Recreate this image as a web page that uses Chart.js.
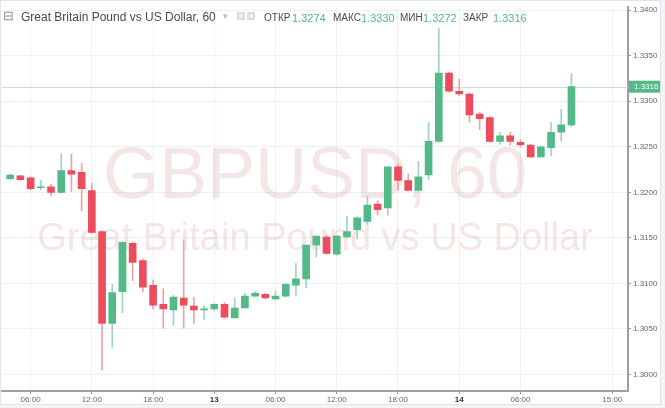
<!DOCTYPE html>
<html>
<head>
<meta charset="utf-8">
<script src="https://cdn.jsdelivr.net/npm/chart.js@4.4.0/dist/chart.umd.min.js"></script>
<style>
body { margin: 0; background: #fff; font-family: "Liberation Sans", Arial, sans-serif; }
#wrap { position: relative; width: 665px; height: 408px; overflow: hidden; background: #f3f4f6; }
#frame { position: absolute; left: 0; top: 0; width: 659px; height: 403px; border: 1px solid #e0e3eb; background: #fff; }
canvas { position: absolute; left: 0; top: 0; }
.hd { position: absolute; top: 10px; white-space: nowrap; line-height: 14px; }
.lbl { font-size: 10px; color: #4a4a4a; top: 11px; }
.val { font-size: 11px; color: #53b987; top: 11px; }
.ico { position: absolute; top: 12px; width: 8px; height: 8px; background: #d9dce1; border-radius: 1px; }
.ico i { position: absolute; left: 2px; top: 2px; width: 4px; height: 4px; border-radius: 2px; background: #f4f5f7; }
</style>
</head>
<body>
<div id="wrap">
  <div id="frame"></div>
  <canvas id="chart" width="665" height="408"></canvas>
  <div class="hd" style="left:3px; top:9px; font-size:13px; color:#8a8f98;">⊟</div>
  <div class="hd" style="left:21px; font-size:12px; color:#4a4a4a;">Great Britain Pound vs US Dollar, 60</div>
  <div class="hd" style="left:223px; top:9px; font-size:9px; color:#b5b8be;">▾</div>
  <div class="ico" style="left:237px;"><i></i></div>
  <div class="ico" style="left:247px;"><i></i></div>
  <div class="hd lbl" style="left:264px;">ОТКР</div>
  <div class="hd val" style="left:292px;">1.3274</div>
  <div class="hd lbl" style="left:333px;">МАКС</div>
  <div class="hd val" style="left:361px;">1.3330</div>
  <div class="hd lbl" style="left:400px;">МИН</div>
  <div class="hd val" style="left:423px;">1.3272</div>
  <div class="hd lbl" style="left:463px;">ЗАКР</div>
  <div class="hd val" style="left:493px;">1.3316</div>
</div>
<script>
// hourly candles, index 0 = 04:00 on the 12th
const opens = [1.3215, 1.3218, 1.3216, 1.3205, 1.3206, 1.3200, 1.3224, 1.3222, 1.3202, 1.3157,
  1.3056, 1.3091, 1.3144, 1.3125, 1.3098, 1.3077, 1.3071, 1.3084, 1.3075, 1.3071,
  1.3072, 1.3077, 1.3062, 1.3073, 1.3086, 1.3088, 1.3083, 1.3086, 1.3098, 1.3105,
  1.3142, 1.3151, 1.3132, 1.3151, 1.3159, 1.3168, 1.3187, 1.3183, 1.3228, 1.3213,
  1.3202, 1.3219, 1.3256, 1.3331, 1.3311, 1.3308, 1.3286, 1.3282, 1.3256, 1.3262,
  1.3255, 1.3252, 1.3239, 1.3249, 1.3266, 1.3274];
const highs = [1.3220, 1.3219, 1.3217, 1.3213, 1.3209, 1.3242, 1.3242, 1.3232, 1.3210, 1.3158,
  1.3099, 1.3146, 1.3145, 1.3127, 1.3104, 1.3094, 1.3087, 1.3148, 1.3085, 1.3075,
  1.3078, 1.3079, 1.3084, 1.3089, 1.3091, 1.3089, 1.3092, 1.3100, 1.3122, 1.3142,
  1.3152, 1.3153, 1.3153, 1.3174, 1.3173, 1.3196, 1.3191, 1.3228, 1.3231, 1.3220,
  1.3234, 1.3277, 1.3380, 1.3332, 1.3324, 1.3309, 1.3288, 1.3283, 1.3266, 1.3266,
  1.3258, 1.3253, 1.3251, 1.3277, 1.3291, 1.3330];
const lows = [1.3214, 1.3213, 1.3203, 1.3203, 1.3196, 1.3199, 1.3201, 1.3180, 1.3155, 1.3005,
  1.3030, 1.3068, 1.3103, 1.3091, 1.3072, 1.3051, 1.3054, 1.3051, 1.3056, 1.3060,
  1.3070, 1.3062, 1.3062, 1.3073, 1.3086, 1.3083, 1.3082, 1.3085, 1.3087, 1.3095,
  1.3129, 1.3132, 1.3131, 1.3150, 1.3149, 1.3165, 1.3175, 1.3175, 1.3202, 1.3202,
  1.3201, 1.3214, 1.3255, 1.3310, 1.3306, 1.3277, 1.3269, 1.3255, 1.3253, 1.3252,
  1.3250, 1.3238, 1.3238, 1.3240, 1.3256, 1.3272];
const closes = [1.3219, 1.3214, 1.3204, 1.3206, 1.3200, 1.3224, 1.3220, 1.3204, 1.3156, 1.3056,
  1.3090, 1.3145, 1.3123, 1.3096, 1.3076, 1.3072, 1.3085, 1.3076, 1.3071, 1.3072,
  1.3077, 1.3063, 1.3073, 1.3086, 1.3089, 1.3084, 1.3086, 1.3099, 1.3105, 1.3142,
  1.3152, 1.3133, 1.3152, 1.3157, 1.3172, 1.3186, 1.3181, 1.3228, 1.3213, 1.3202,
  1.3217, 1.3256, 1.3331, 1.3311, 1.3308, 1.3285, 1.3281, 1.3256, 1.3262, 1.3256,
  1.3252, 1.3239, 1.3250, 1.3266, 1.3274, 1.3316];

const xTickPos = [2, 8, 14, 20, 26, 32, 38, 44, 50, 59];
const xTickLabels = ['06:00', '12:00', '18:00', '13', '06:00', '12:00', '18:00', '14', '06:00', '15:00'];
const yTicks = [1.3000, 1.3050, 1.3100, 1.3150, 1.3200, 1.3250, 1.3300, 1.3350, 1.3400];
const watermark = ['GBPUSD, 60', 'Great Britain Pound vs US Dollar'];

const UP = '#53b987', DOWN = '#eb4d5c';
const UP_WICK = '#a3d2c5', DOWN_WICK = '#f2a0a8';
const FONT = '"Liberation Sans", Arial, sans-serif';

const isUp = closes.map((c, i) => c >= opens[i]);
const lastClose = closes[closes.length - 1];

const overlay = {
  id: 'overlay',
  beforeDatasetsDraw(chart) {
    const { ctx, chartArea: a, scales: { y } } = chart;
    const cx = (a.left + a.right) / 2;
    ctx.save();
    ctx.fillStyle = 'rgba(205,130,130,0.2)';
    ctx.textAlign = 'center';
    ctx.textBaseline = 'alphabetic';
    ctx.font = '72px ' + FONT;
    ctx.fillText(watermark[0], cx, 198);
    ctx.font = '38px ' + FONT;
    ctx.fillText(watermark[1], cx, 250);
    // last price line
    const py = Math.round(y.getPixelForValue(lastClose)) + 0.5;
    ctx.strokeStyle = '#bfe4d2';
    ctx.lineWidth = 1;
    ctx.beginPath();
    ctx.moveTo(a.left, py);
    ctx.lineTo(a.right, py);
    ctx.stroke();
    ctx.restore();
  },
  afterDraw(chart) {
    const { ctx, chartArea: a, scales: { y } } = chart;
    const py = y.getPixelForValue(lastClose);
    ctx.save();
    ctx.fillStyle = UP;
    ctx.fillRect(a.right + 1, py - 6, 31, 12);
    ctx.fillStyle = '#fff';
    ctx.font = '8px ' + FONT;
    ctx.textBaseline = 'middle';
    ctx.fillText(lastClose.toFixed(4), a.right + 6, py + 0.5);
    ctx.restore();
  }
};

new Chart(document.getElementById('chart'), {
  type: 'bar',
  data: {
    datasets: [
      {
        label: 'body',
        data: opens.map((o, i) => ({ x: i, y: [o, closes[i]] })),
        backgroundColor: isUp.map(u => u ? UP : DOWN),
        barThickness: 7,
        minBarLength: 1,
        grouped: false,
        order: 0
      },
      {
        label: 'wick',
        data: lows.map((l, i) => ({ x: i, y: [l, highs[i]] })),
        backgroundColor: isUp.map(u => u ? UP_WICK : DOWN_WICK),
        barThickness: 1,
        grouped: false,
        order: 1
      }
    ]
  },
  options: {
    responsive: false,
    animation: false,
    layout: { padding: { left: 2, top: 1, right: 0, bottom: 0 } },
    plugins: { legend: { display: false }, tooltip: { enabled: false } },
    scales: {
      x: {
        type: 'linear',
        offset: false,
        min: -0.804,
        max: 60.54,
        afterBuildTicks: s => { s.ticks = xTickPos.map(v => ({ value: v })); },
        afterFit: s => { s.height = 17; },
        ticks: {
          autoSkip: false,
          maxRotation: 0,
          padding: 1,
          callback: v => xTickLabels[xTickPos.indexOf(v)],
          color: c => (xTickLabels[c.index] || '').length < 3 ? '#333' : '#666',
          font: c => ({ family: FONT, size: 8, weight: (xTickLabels[c.index] || '').length < 3 ? 'bold' : 'normal' })
        },
        grid: { offset: false, color: '#edf1f5', tickColor: '#999', tickLength: 3 },
        border: { color: '#a0a0a0', width: 2 }
      },
      y: {
        position: 'right',
        min: 1.29819,
        max: 1.34037,
        afterBuildTicks: s => { s.ticks = yTicks.map(v => ({ value: v })); },
        afterFit: s => { s.width = 37; },
        ticks: {
          padding: 2,
          color: '#666',
          font: { family: FONT, size: 8 },
          callback: v => v.toFixed(4)
        },
        grid: { color: '#edf1f5', tickColor: '#999', tickLength: 3 },
        border: { color: '#a0a0a0', width: 2 }
      }
    }
  },
  plugins: [overlay]
});
</script>
</body>
</html>
